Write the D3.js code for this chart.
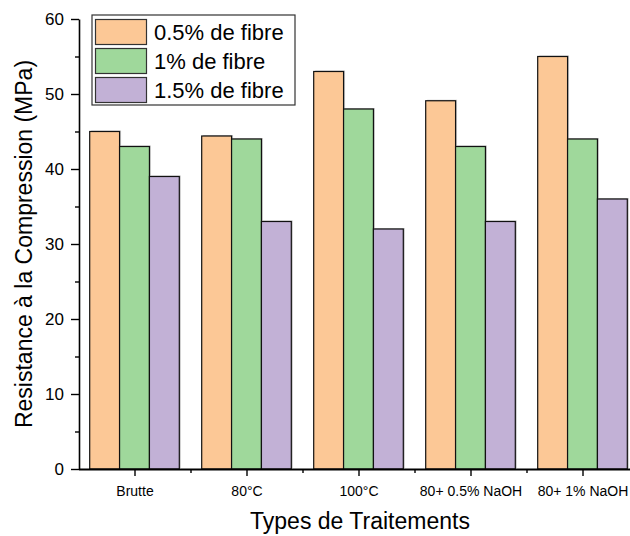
<!DOCTYPE html>
<html>
<head>
<meta charset="utf-8">
<script src="https://cdn.jsdelivr.net/npm/d3@7"></script>
<style>
  html, body { margin: 0; padding: 0; background: #fff; }
  svg { display: block; font-family: "Liberation Sans", Arial, sans-serif; }
</style>
</head>
<body>
<svg id="chart" width="630" height="536"></svg>
<script>
// Compressive strength by treatment type and fibre content
const categories = ["Brutte", "80°C", "100°C", "80+ 0.5% NaOH", "80+ 1% NaOH"];
const seriesNames = ["0.5% de fibre", "1% de fibre", "1.5% de fibre"];
const fibre05 = [45, 44.4, 53, 49.1, 55];
const fibre10 = [43, 44, 48, 43, 44];
const fibre15 = [39, 33, 32, 33, 36];
const yTicks = [0, 10, 20, 30, 40, 50, 60];
const yMinorTicks = [5, 15, 25, 35, 45, 55];

const seriesValues = [fibre05, fibre10, fibre15];
const colors = ["#FCC896", "#9FD89B", "#C2B1D6"];

const svg = d3.select("#chart");

const x = d3.scaleBand()
  .domain(categories)
  .range([78.5, 638.5])
  .paddingInner(0.2)
  .paddingOuter(0.1);

const xInner = d3.scaleBand()
  .domain(seriesNames)
  .range([0, x.bandwidth()])
  .padding(0);

const y = d3.scaleLinear().domain([0, 60]).range([469, 19]);

// Bars (a faint grey shadow under each, then the filled bar)
const groups = svg.append("g").selectAll("g")
  .data(categories)
  .join("g")
  .attr("transform", d => `translate(${x(d)},0)`);

seriesNames.forEach((name, si) => {
  groups.append("rect")
    .attr("x", (d, ci) => xInner(name) + 1.5)
    .attr("y", (d, ci) => y(seriesValues[si][ci]) - 1)
    .attr("width", xInner.bandwidth())
    .attr("height", (d, ci) => y(0) - y(seriesValues[si][ci]))
    .attr("fill", "#c8c8c8");
});
seriesNames.forEach((name, si) => {
  groups.append("rect")
    .attr("x", (d, ci) => xInner(name))
    .attr("y", (d, ci) => y(seriesValues[si][ci]))
    .attr("width", xInner.bandwidth())
    .attr("height", (d, ci) => y(0) - y(seriesValues[si][ci]))
    .attr("fill", colors[si])
    .attr("stroke", "#111")
    .attr("stroke-width", 1.2);
});

// Y axis: major ticks with labels, minor ticks between
const yAxis = svg.append("g")
  .attr("transform", "translate(79,0)")
  .call(d3.axisLeft(y).tickValues(yTicks).tickSize(8).tickPadding(7).tickSizeOuter(0));
yAxis.select(".domain").attr("stroke", "#000").attr("stroke-width", 1.6);
yAxis.selectAll(".tick line").attr("stroke-width", 1.4);
yAxis.selectAll("text").attr("font-size", 17).attr("fill", "#000")
  .attr("font-family", "Liberation Sans, Arial, sans-serif");

svg.append("g")
  .attr("transform", "translate(79,0)")
  .call(d3.axisLeft(y).tickValues(yMinorTicks).tickSize(4).tickFormat(""))
  .call(g => g.select(".domain").remove())
  .selectAll(".tick line").attr("stroke-width", 1.4);

// X axis: major ticks at category centres, minor ticks at category boundaries
const xCenter = d => x(d) + x.bandwidth() / 2;
const xAxisScale = d3.scaleLinear().domain([78.5, 638.5]).range([78.5, 638.5]);
const boundaries = categories.slice(1).map(d => x(d) - x.step() * x.paddingInner() / 2);

const xAxis = svg.append("g")
  .attr("transform", "translate(0,469)")
  .call(d3.axisBottom(xAxisScale)
    .tickValues(categories.map(xCenter))
    .tickFormat((d, i) => categories[i])
    .tickSize(7).tickPadding(10).tickSizeOuter(0));
xAxis.select(".domain").attr("stroke", "#000").attr("stroke-width", 2);
xAxis.selectAll(".tick line").attr("stroke-width", 1.4);
xAxis.selectAll("text").attr("font-size", 14).attr("fill", "#000")
  .attr("font-family", "Liberation Sans, Arial, sans-serif");

svg.append("g")
  .attr("transform", "translate(0,469)")
  .call(d3.axisBottom(xAxisScale).tickValues(boundaries).tickSize(4).tickFormat(""))
  .call(g => g.select(".domain").remove())
  .selectAll(".tick line").attr("stroke-width", 1.4);

// Axis titles
svg.append("text")
  .attr("x", 360).attr("y", 529)
  .attr("text-anchor", "middle")
  .attr("font-size", 23)
  .text("Types de Traitements");

svg.append("text")
  .attr("transform", "translate(32,244) rotate(-90)")
  .attr("text-anchor", "middle")
  .attr("font-size", 23)
  .text("Resistance à la Compression (MPa)");

// Legend
const legend = svg.append("g");
legend.append("rect")
  .attr("x", 92).attr("y", 15).attr("width", 203).attr("height", 90)
  .attr("fill", "#fff").attr("stroke", "#333").attr("stroke-width", 1.2);
const legendStep = 29;
seriesNames.forEach((name, i) => {
  legend.append("rect")
    .attr("x", 95.5).attr("y", 19.5 + i * legendStep)
    .attr("width", 51).attr("height", 25)
    .attr("fill", colors[i]).attr("stroke", "#333").attr("stroke-width", 1.2);
  legend.append("text")
    .attr("x", 154).attr("y", 40 + i * legendStep)
    .attr("font-size", 22)
    .text(name);
});
</script>
</body>
</html>
